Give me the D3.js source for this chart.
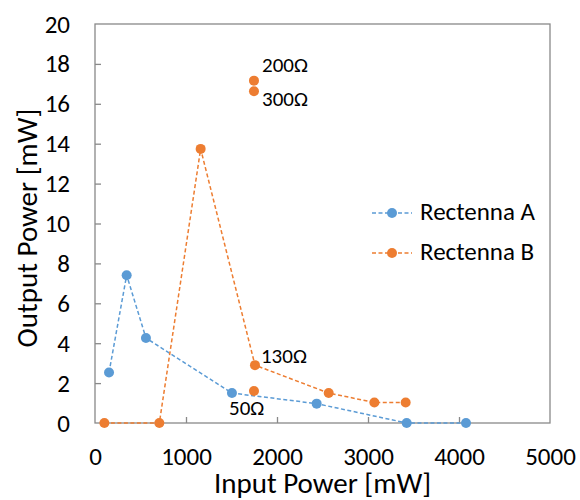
<!DOCTYPE html>
<html>
<head>
<meta charset="utf-8">
<script src="https://cdn.jsdelivr.net/npm/d3@7"></script>
<style>
  body { margin: 0; background: #fff; }
  svg { font-family: Carlito, Calibri, "Open Sans", sans-serif; }
</style>
</head>
<body>
<div id="chart"></div>
<script>
// Rectenna A
var inputA = [154, 348, 560, 1505, 2436, 3425, 4077];
var outputA = [2.53, 7.41, 4.26, 1.50, 0.97, 0, 0];
// Rectenna B
var inputB = [103, 707, 1161, 1758, 2568, 3070, 3414];
var outputB = [0, 0, 13.74, 2.9, 1.50, 1.03, 1.03];
// extra load points (no line)
var loadNames = ['200Ω', '300Ω', '50Ω'];
var loadInput = [1747, 1747, 1747];
var loadOutput = [17.16, 16.63, 1.60];
var xTicks = [0, 1000, 2000, 3000, 4000, 5000];
var yTicks = [0, 2, 4, 6, 8, 10, 12, 14, 16, 18, 20];
var seriesNames = ['Rectenna A', 'Rectenna B'];

var width = 580, height = 500;
var margin = {top: 24, right: 30, bottom: 77, left: 95};
var blue = '#5B9BD5', orange = '#ED7D31', axisColor = '#898989';

var svg = d3.select('#chart').append('svg').attr('width', width).attr('height', height);

var x = d3.scaleLinear().domain([0, 5000]).range([margin.left, width - margin.right]);
var y = d3.scaleLinear().domain([0, 20]).range([height - margin.bottom, margin.top]);

// frame
svg.append('rect')
    .attr('x', x(0)).attr('y', y(20))
    .attr('width', x(5000) - x(0)).attr('height', y(0) - y(20))
    .attr('fill', 'none').attr('stroke', axisColor).attr('stroke-width', 1.3);

// ticks inside
var xAxis = d3.axisBottom(x).tickValues(xTicks).tickSize(-6).tickPadding(24).tickFormat(d3.format('d'));
var gx = svg.append('g').attr('transform', `translate(0,${y(0)})`).call(xAxis);
var yAxis = d3.axisLeft(y).tickValues(yTicks).tickSize(-6).tickPadding(25);
var gy = svg.append('g').attr('transform', `translate(${x(0)},0)`).call(yAxis);

[gx, gy].forEach(function(g){
    g.select('.domain').remove();
    g.selectAll('.tick line').attr('stroke', axisColor).attr('stroke-width', 1.3);
    g.selectAll('.tick text').attr('fill', '#000').style('font-size', '25px')
        .style('font-family', 'Carlito, Calibri, "Open Sans", sans-serif');
});
gx.selectAll('.tick line').filter(function(d){ return d === 0 || d === 5000; }).remove();
gy.selectAll('.tick line').filter(function(d){ return d === 0 || d === 20; }).remove();

// axis titles
svg.append('text').attr('x', (x(0) + x(5000)) / 2).attr('y', 493)
    .attr('text-anchor', 'middle').style('font-size', '29px').text('Input Power [mW]');
svg.append('text')
    .attr('transform', 'translate(37,228) rotate(-90)')
    .attr('text-anchor', 'middle').style('font-size', '29px').text('Output Power [mW]');

var line = d3.line().x(function(d){ return x(d[0]); }).y(function(d){ return y(d[1]); });

function drawSeries(xs, ys, color) {
    var pts = xs.map(function(v, i){ return [v, ys[i]]; });
    svg.append('path').datum(pts).attr('d', line)
        .attr('fill', 'none').attr('stroke', color).attr('stroke-width', 1.5)
        .attr('stroke-dasharray', '4,2.5');
    svg.append('g').selectAll('circle').data(pts).enter().append('circle')
        .attr('cx', function(d){ return x(d[0]); })
        .attr('cy', function(d){ return y(d[1]); })
        .attr('r', 5).attr('fill', color);
}

drawSeries(inputA, outputA, blue);
drawSeries(inputB, outputB, orange);

// load points
svg.append('g').selectAll('circle').data(loadInput).enter().append('circle')
    .attr('cx', function(d){ return x(d); })
    .attr('cy', function(d, i){ return y(loadOutput[i]); })
    .attr('r', 5).attr('fill', orange);

// labels
var labelPos = [[262, 72], [262, 106], [229, 415]];
loadNames.forEach(function(n, i){
    svg.append('text').attr('x', labelPos[i][0]).attr('y', labelPos[i][1])
        .style('font-size', '21px').text(n);
});
svg.append('text').attr('x', x(inputB[3]) + 6).attr('y', y(outputB[3]) - 2)
    .style('font-size', '21px').text('130Ω');

// legend
var legend = svg.append('g');
[blue, orange].forEach(function(c, i){
    var ly = 213 + i * 40;
    legend.append('line').attr('x1', 372).attr('x2', 412).attr('y1', ly).attr('y2', ly)
        .attr('stroke', c).attr('stroke-width', 1.5).attr('stroke-dasharray', '4,2.5');
    legend.append('circle').attr('cx', 392).attr('cy', ly).attr('r', 5).attr('fill', c);
    legend.append('text').attr('x', 420).attr('y', ly + 7).style('font-size', '25px').text(seriesNames[i]);
});
</script>
</body>
</html>
